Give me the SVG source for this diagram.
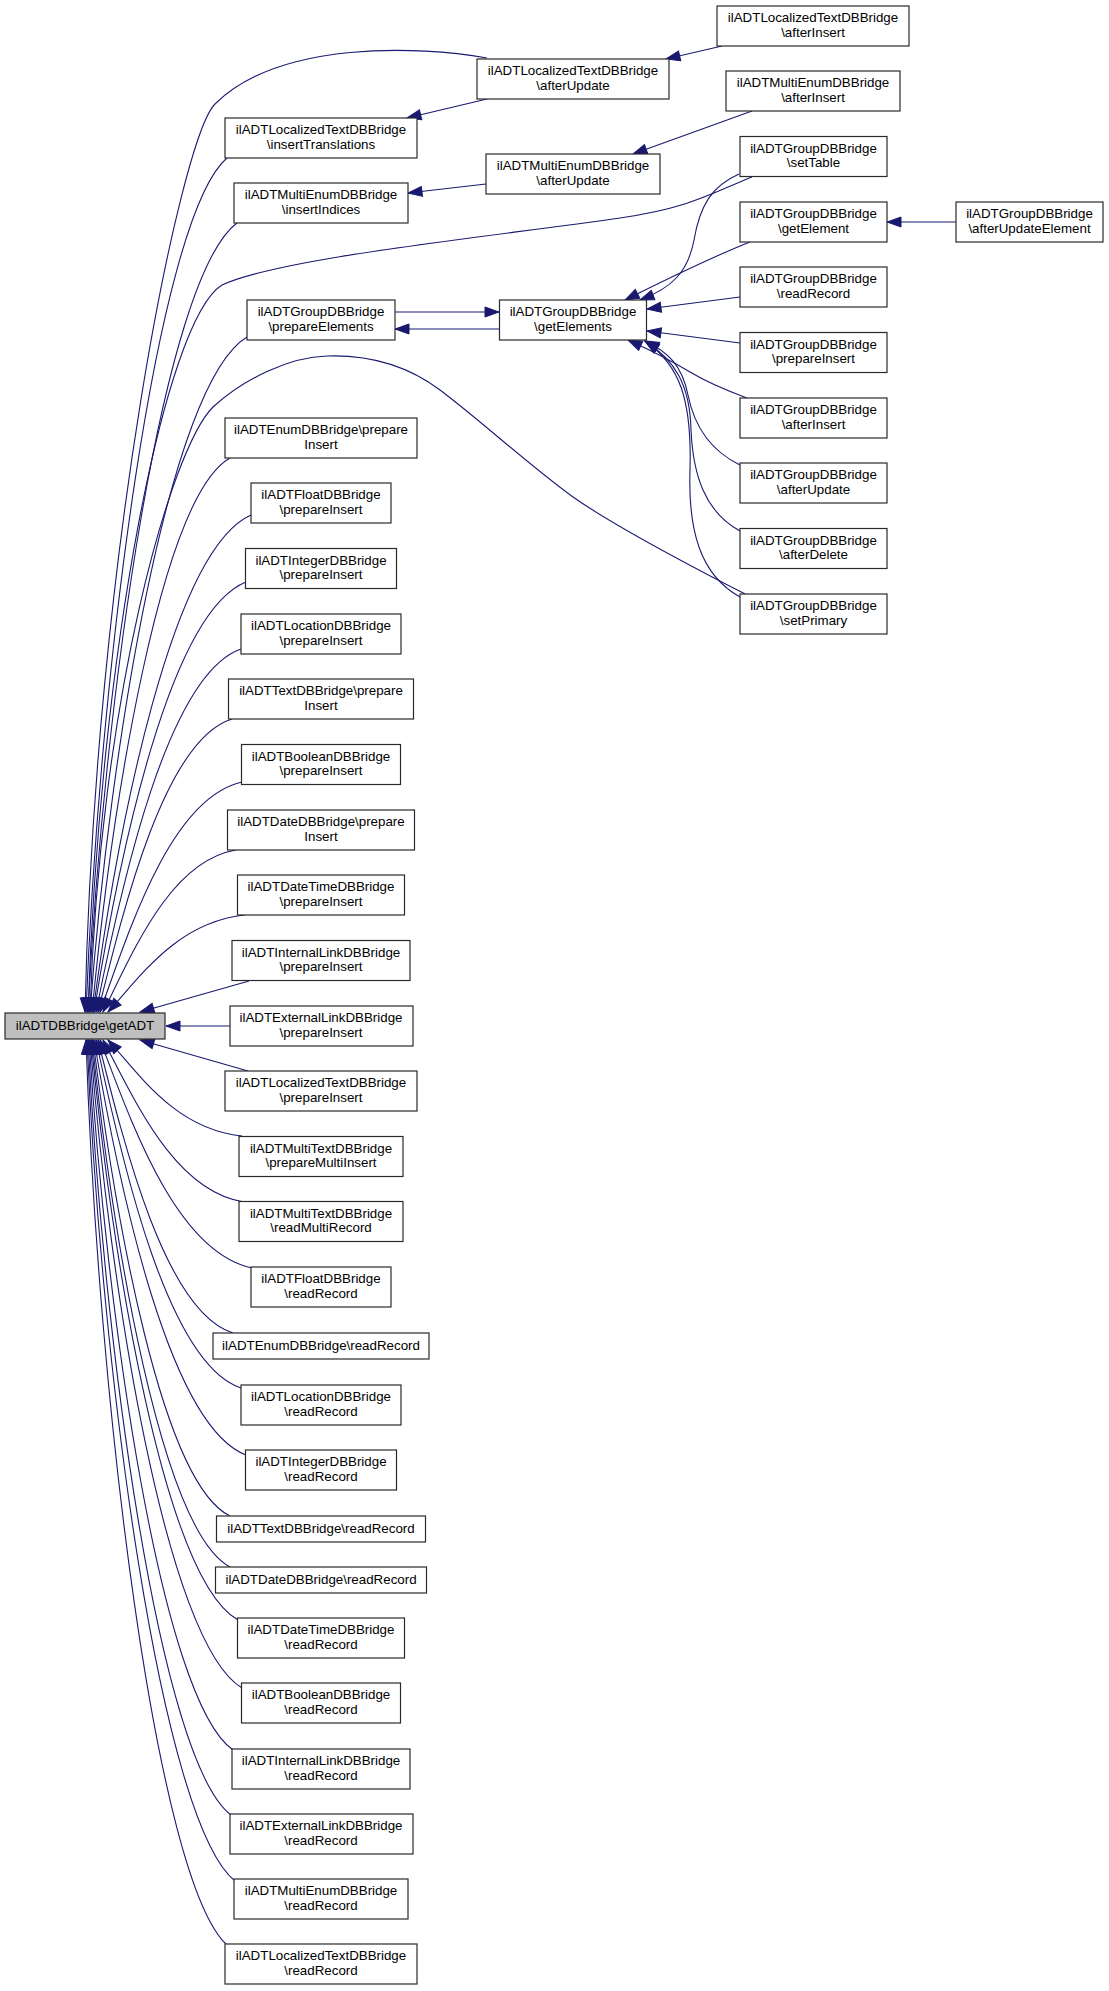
<svg xmlns="http://www.w3.org/2000/svg" width="1109" height="1991" viewBox="0 0 1109 1991">
<style>
.n rect{fill:#fff;stroke:#2a2a2a;stroke-width:1.2}
.n.m rect{fill:#bfbfbf}
.n text{font-family:"Liberation Sans",Arial,Helvetica,sans-serif;font-size:13.33px;fill:#000;text-anchor:middle}
.e path{fill:none;stroke:#191970;stroke-width:1.1;marker-end:url(#a)}
</style>
<defs>
<marker id="a" markerWidth="16" markerHeight="12" refX="14" refY="5" orient="auto" markerUnits="userSpaceOnUse" overflow="visible">
<path d="M0,0 L14,5 L0,10 z" fill="#191970" stroke="#191970" stroke-width="1"/>
</marker>
</defs>
<rect width="1109" height="1991" fill="#fff"/>
<g id="connectors" class="e">
<path d="M722,46 L666,59"/>
<path d="M752,111 L633,154"/>
<path d="M487,99 L407,118"/>
<path d="M486,184 L408,193"/>
<path d="M395,312 L499,312"/>
<path d="M499,329 L395,329"/>
<path d="M956,222 L887,222"/>
<path d="M739,174 C712,186 700,205 694,240 C688,272 672,288 640,300"/>
<path d="M750,242 C712,257 675,275 625,300"/>
<path d="M740,297 L647,309"/>
<path d="M740,343 L647,331"/>
<path d="M747,398 C720,388 700,378 690,372 C670,360 650,350 628,340"/>
<path d="M740,465 C705,448 693,420 688,395 C682,365 668,352 645,341"/>
<path d="M740,531 C705,512 693,475 691,430 C690,385 675,360 645,341"/>
<path d="M740,597 C700,575 688,530 690,470 C692,400 680,365 645,341"/>
<path d="M487,58 C420,46 280,40 215,104 C180,139 95,560 85,1012"/>
<path d="M752,177 C712,193 690,208 620,218 C480,238 280,258 222,285 C165,320 100,650 88,1012"/>
<path d="M745,594 C710,576 620,530 573,497 C530,466 480,420 440,390 C400,360 360,355 327,356 C290,357 245,378 213,407 C170,450 100,700 90,1012"/>
<path d="M227,158 C156.5,218 99.2,673 86,1012"/>
<path d="M237,223 C162.5,278 103.7,701 88,1012"/>
<path d="M247,337 C168.5,384 109.8,750 90,1012"/>
<path d="M230,458 C161,497 112.4,801 92,1012"/>
<path d="M251,515 C172,550 118.1,824 93,1012"/>
<path d="M246,582 C170,612 120,851 94,1012"/>
<path d="M241,649 C168.5,674 122.6,878 96,1012"/>
<path d="M232,719 C165,739.5 124.3,905 98,1012"/>
<path d="M242,782 C171,798 129.5,928.5 100,1012"/>
<path d="M236,850 C169.5,861 132.3,954 103,1012"/>
<path d="M245,915 C176.5,922 139.8,977.6 108,1012"/>
<path d="M249,981 L140,1012"/>
<path d="M230,1026 L166,1026"/>
<path d="M248,1071 L140,1040"/>
<path d="M242,1136 C175,1129 139.1,1074 108,1040"/>
<path d="M244,1202 C173.5,1191 134,1098 103,1040"/>
<path d="M252,1268 C176,1252 131.6,1123 100,1040"/>
<path d="M233,1333 C165.5,1312 124.5,1147 98,1040"/>
<path d="M241,1388 C168.5,1364 123,1168 96,1040"/>
<path d="M246,1455 C170,1426 120.4,1195 94,1040"/>
<path d="M230,1516 C161.5,1483 115.3,1219 93,1040"/>
<path d="M230,1567 C161,1530 113.1,1240 92,1040"/>
<path d="M238,1620 C164.5,1579 112.2,1262 91,1040"/>
<path d="M242,1688 C166,1643 109.9,1290 90,1040"/>
<path d="M233,1750 C161,1700 106.3,1316 89,1040"/>
<path d="M231,1815 C159.5,1761 103.4,1345 88,1040"/>
<path d="M235,1881 C161,1822 101.2,1374 87,1040"/>
<path d="M227,1945 C156.5,1882 98,1402 86,1040"/>
</g>
<g id="n0" class="n m"><rect x="5" y="1013" width="160" height="26"/><text x="85" y="1029.5">ilADTDBBridge\getADT</text></g>
<g id="c1" class="n"><rect x="225" y="118" width="192" height="40"/><text x="321" y="134">ilADTLocalizedTextDBBridge</text><text x="321" y="148.5">\insertTranslations</text></g>
<g id="c2" class="n"><rect x="234" y="183" width="174" height="40"/><text x="321" y="199">ilADTMultiEnumDBBridge</text><text x="321" y="213.5">\insertIndices</text></g>
<g id="c3" class="n"><rect x="247" y="300" width="148" height="40"/><text x="321" y="316">ilADTGroupDBBridge</text><text x="321" y="330.5">\prepareElements</text></g>
<g id="c4" class="n"><rect x="225" y="418" width="192" height="40"/><text x="321" y="434">ilADTEnumDBBridge\prepare</text><text x="321" y="448.5">Insert</text></g>
<g id="c5" class="n"><rect x="251" y="483" width="140" height="40"/><text x="321" y="499">ilADTFloatDBBridge</text><text x="321" y="513.5">\prepareInsert</text></g>
<g id="c6" class="n"><rect x="245.5" y="548.5" width="151" height="40"/><text x="321" y="564.5">ilADTIntegerDBBridge</text><text x="321" y="579">\prepareInsert</text></g>
<g id="c7" class="n"><rect x="241" y="614" width="160" height="40"/><text x="321" y="630">ilADTLocationDBBridge</text><text x="321" y="644.5">\prepareInsert</text></g>
<g id="c8" class="n"><rect x="228.5" y="679" width="185" height="40"/><text x="321" y="695">ilADTTextDBBridge\prepare</text><text x="321" y="709.5">Insert</text></g>
<g id="c9" class="n"><rect x="241.5" y="744.5" width="159" height="40"/><text x="321" y="760.5">ilADTBooleanDBBridge</text><text x="321" y="775">\prepareInsert</text></g>
<g id="c10" class="n"><rect x="227.5" y="810" width="187" height="40"/><text x="321" y="826">ilADTDateDBBridge\prepare</text><text x="321" y="840.5">Insert</text></g>
<g id="c11" class="n"><rect x="237.5" y="875" width="167" height="40"/><text x="321" y="891">ilADTDateTimeDBBridge</text><text x="321" y="905.5">\prepareInsert</text></g>
<g id="c12" class="n"><rect x="232" y="940.5" width="178" height="40"/><text x="321" y="956.5">ilADTInternalLinkDBBridge</text><text x="321" y="971">\prepareInsert</text></g>
<g id="c13" class="n"><rect x="230" y="1006" width="183" height="40"/><text x="321" y="1022">ilADTExternalLinkDBBridge</text><text x="321" y="1036.5">\prepareInsert</text></g>
<g id="c14" class="n"><rect x="225" y="1071" width="192" height="40"/><text x="321" y="1087">ilADTLocalizedTextDBBridge</text><text x="321" y="1101.5">\prepareInsert</text></g>
<g id="c15" class="n"><rect x="239" y="1136.5" width="164" height="40"/><text x="321" y="1152.5">ilADTMultiTextDBBridge</text><text x="321" y="1167">\prepareMultiInsert</text></g>
<g id="c16" class="n"><rect x="239" y="1201.5" width="164" height="40"/><text x="321" y="1217.5">ilADTMultiTextDBBridge</text><text x="321" y="1232">\readMultiRecord</text></g>
<g id="c17" class="n"><rect x="251" y="1267" width="140" height="40"/><text x="321" y="1283">ilADTFloatDBBridge</text><text x="321" y="1297.5">\readRecord</text></g>
<g id="c18" class="n"><rect x="213" y="1333" width="216" height="26"/><text x="321" y="1349.5">ilADTEnumDBBridge\readRecord</text></g>
<g id="c19" class="n"><rect x="241" y="1385" width="160" height="40"/><text x="321" y="1401">ilADTLocationDBBridge</text><text x="321" y="1415.5">\readRecord</text></g>
<g id="c20" class="n"><rect x="245.5" y="1450" width="151" height="40"/><text x="321" y="1466">ilADTIntegerDBBridge</text><text x="321" y="1480.5">\readRecord</text></g>
<g id="c21" class="n"><rect x="216.5" y="1516" width="209" height="26"/><text x="321" y="1532.5">ilADTTextDBBridge\readRecord</text></g>
<g id="c22" class="n"><rect x="215.5" y="1567" width="211" height="26"/><text x="321" y="1583.5">ilADTDateDBBridge\readRecord</text></g>
<g id="c23" class="n"><rect x="237.5" y="1618" width="167" height="40"/><text x="321" y="1634">ilADTDateTimeDBBridge</text><text x="321" y="1648.5">\readRecord</text></g>
<g id="c24" class="n"><rect x="241.5" y="1683" width="159" height="40"/><text x="321" y="1699">ilADTBooleanDBBridge</text><text x="321" y="1713.5">\readRecord</text></g>
<g id="c25" class="n"><rect x="232" y="1749" width="178" height="40"/><text x="321" y="1765">ilADTInternalLinkDBBridge</text><text x="321" y="1779.5">\readRecord</text></g>
<g id="c26" class="n"><rect x="230" y="1814" width="183" height="40"/><text x="321" y="1830">ilADTExternalLinkDBBridge</text><text x="321" y="1844.5">\readRecord</text></g>
<g id="c27" class="n"><rect x="234" y="1879" width="174" height="40"/><text x="321" y="1895">ilADTMultiEnumDBBridge</text><text x="321" y="1909.5">\readRecord</text></g>
<g id="c28" class="n"><rect x="225" y="1944" width="192" height="40"/><text x="321" y="1960">ilADTLocalizedTextDBBridge</text><text x="321" y="1974.5">\readRecord</text></g>
<g id="d1" class="n"><rect x="477" y="59" width="192" height="40"/><text x="573" y="75">ilADTLocalizedTextDBBridge</text><text x="573" y="89.5">\afterUpdate</text></g>
<g id="d2" class="n"><rect x="486" y="154" width="174" height="40"/><text x="573" y="170">ilADTMultiEnumDBBridge</text><text x="573" y="184.5">\afterUpdate</text></g>
<g id="d3" class="n"><rect x="499.5" y="300" width="147" height="40"/><text x="573" y="316">ilADTGroupDBBridge</text><text x="573" y="330.5">\getElements</text></g>
<g id="e1" class="n"><rect x="717" y="6" width="192" height="40"/><text x="813" y="22">ilADTLocalizedTextDBBridge</text><text x="813" y="36.5">\afterInsert</text></g>
<g id="e2" class="n"><rect x="726" y="71" width="174" height="40"/><text x="813" y="87">ilADTMultiEnumDBBridge</text><text x="813" y="101.5">\afterInsert</text></g>
<g id="e3" class="n"><rect x="740" y="136.5" width="147" height="40"/><text x="813.5" y="152.5">ilADTGroupDBBridge</text><text x="813.5" y="167">\setTable</text></g>
<g id="e4" class="n"><rect x="740" y="202" width="147" height="40"/><text x="813.5" y="218">ilADTGroupDBBridge</text><text x="813.5" y="232.5">\getElement</text></g>
<g id="e5" class="n"><rect x="740" y="267" width="147" height="40"/><text x="813.5" y="283">ilADTGroupDBBridge</text><text x="813.5" y="297.5">\readRecord</text></g>
<g id="e6" class="n"><rect x="740" y="332.5" width="147" height="40"/><text x="813.5" y="348.5">ilADTGroupDBBridge</text><text x="813.5" y="363">\prepareInsert</text></g>
<g id="e7" class="n"><rect x="740" y="398" width="147" height="40"/><text x="813.5" y="414">ilADTGroupDBBridge</text><text x="813.5" y="428.5">\afterInsert</text></g>
<g id="e8" class="n"><rect x="740" y="463" width="147" height="40"/><text x="813.5" y="479">ilADTGroupDBBridge</text><text x="813.5" y="493.5">\afterUpdate</text></g>
<g id="e9" class="n"><rect x="740" y="528.5" width="147" height="40"/><text x="813.5" y="544.5">ilADTGroupDBBridge</text><text x="813.5" y="559">\afterDelete</text></g>
<g id="e10" class="n"><rect x="740" y="594" width="147" height="40"/><text x="813.5" y="610">ilADTGroupDBBridge</text><text x="813.5" y="624.5">\setPrimary</text></g>
<g id="f1" class="n"><rect x="956" y="202" width="147" height="40"/><text x="1029.5" y="218">ilADTGroupDBBridge</text><text x="1029.5" y="232.5">\afterUpdateElement</text></g>
</svg>
